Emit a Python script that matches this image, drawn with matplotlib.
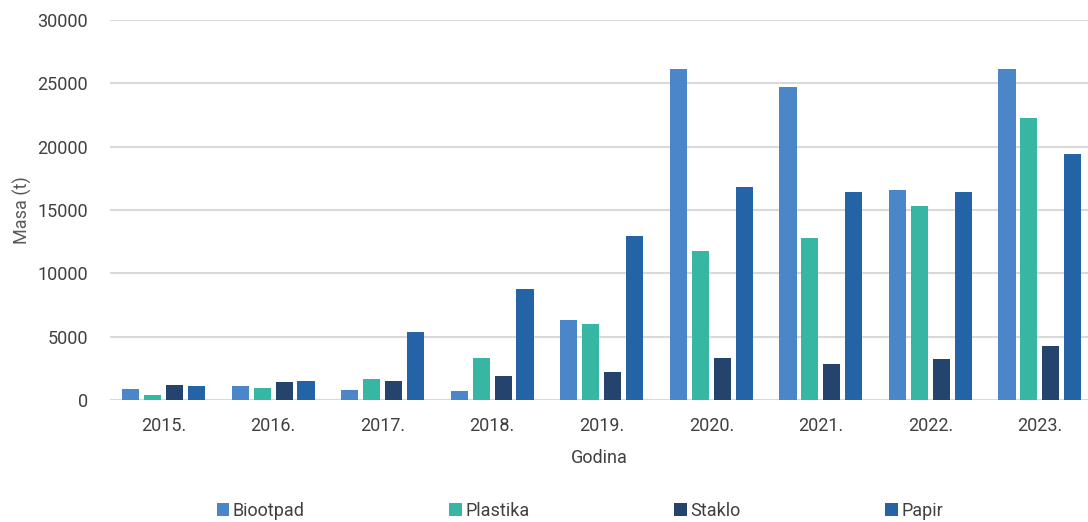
import numpy as np
import matplotlib
matplotlib.use("Agg")
import matplotlib.pyplot as plt

plt.rcParams['font.family'] = ['Liberation Sans Narrow', 'Roboto', 'DejaVu Sans']

godine = ["2015.", "2016.", "2017.", "2018.", "2019.", "2020.", "2021.", "2022.", "2023."]
biootpad = [850, 1070, 820, 740, 6300, 26100, 24700, 16550, 26100]
plastika = [370, 970, 1660, 3290, 6000, 11750, 12800, 15300, 22250]
staklo = [1150, 1450, 1480, 1920, 2200, 3300, 2850, 3230, 4260]
papir = [1120, 1480, 5370, 8760, 12950, 16800, 16400, 16400, 19400]

serije = [("Biootpad", biootpad, "#4a86c8"),
          ("Plastika", plastika, "#38b6a4"),
          ("Staklo", staklo, "#24446e"),
          ("Papir", papir, "#2463a6")]

fig = plt.figure(figsize=(10.88, 5.22), dpi=100)
ax = fig.add_axes([110/1088, 1-400/522, 978/1088, 380/522])

x = np.arange(len(godine))
korak = 0.2
sirina = 0.157
for i, (ime, vrijednosti, boja) in enumerate(serije):
    ax.bar(x + (i - 1.5)*korak, vrijednosti, width=sirina, color=boja,
           label=ime, zorder=3)

ax.set_ylim(0, 30000)
ax.set_xlim(-0.49, 8.44)
ax.set_yticks(range(0, 30001, 5000))
ax.set_xticks(x)
ax.set_xticklabels(godine)
ax.yaxis.grid(color="#d9d9d9", linewidth=1.5, zorder=0)
ax.set_axisbelow(True)
for s in ["top", "right", "left", "bottom"]:
    ax.spines[s].set_visible(False)
ax.tick_params(axis="both", length=0, labelsize=13, colors="#404040")
ax.tick_params(axis="x", pad=12)
ax.tick_params(axis="y", pad=16)

ax.set_xlabel("Godina", fontsize=13, color="#404040", labelpad=10)
ax.set_ylabel("Masa (t)", fontsize=13, color="#595959", labelpad=4)

fig.legend(loc="center", bbox_to_anchor=(0.533, 1-511/522), ncol=4, frameon=False,
           fontsize=13, handlelength=0.7, handleheight=0.7, handletextpad=0.2,
           columnspacing=8, labelcolor="#404040")

plt.savefig("out.png", dpi=100)
